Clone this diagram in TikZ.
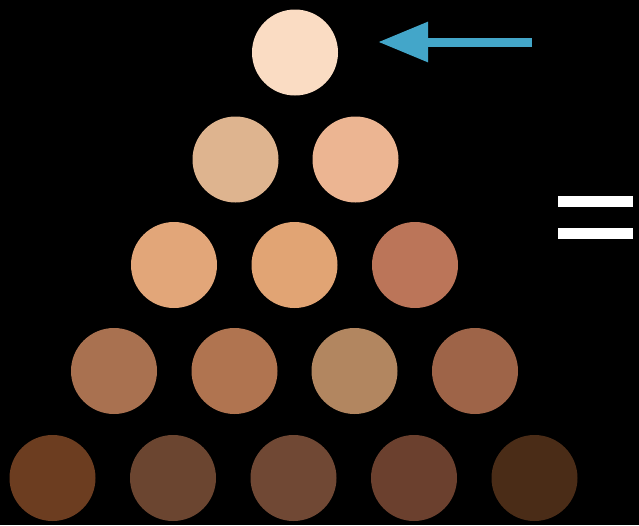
\documentclass[tikz,border=0pt]{standalone}
\usetikzlibrary{arrows.meta}
\definecolor{arrowblue}{HTML}{43A6C9}
\definecolor{cA}{HTML}{FADCC3}
\definecolor{cBa}{HTML}{DEB48F}
\definecolor{cBb}{HTML}{ECB592}
\definecolor{cCa}{HTML}{E2A679}
\definecolor{cCb}{HTML}{E1A474}
\definecolor{cCc}{HTML}{BB7559}
\definecolor{cDa}{HTML}{A97150}
\definecolor{cDb}{HTML}{B07450}
\definecolor{cDc}{HTML}{B28660}
\definecolor{cDd}{HTML}{9E6448}
\definecolor{cEa}{HTML}{6C3D20}
\definecolor{cEb}{HTML}{6B4530}
\definecolor{cEc}{HTML}{704834}
\definecolor{cEd}{HTML}{6B402E}
\definecolor{cEe}{HTML}{4A2C17}
\tikzset{
  swatch/.style={circle, minimum size=86pt, inner sep=0pt, draw=none, fill=#1},
  eqbar/.style={fill=white, draw=none},
}
\begin{document}
\begin{tikzpicture}[x=1pt,y=-1pt]
\fill[black] (0,0) rectangle (639,525);
\useasboundingbox (0,0) rectangle (639,525);
% row 1
\node[swatch=cA] (a1) at (295,52.5) {};
% row 2
\node[swatch=cBa] (b1) at (235.5,159.5) {};
\node[swatch=cBb] (b2) at (355.5,159.5) {};
% row 3
\node[swatch=cCa] (c1) at (174,265) {};
\node[swatch=cCb] (c2) at (294.5,265) {};
\node[swatch=cCc] (c3) at (415,265) {};
% row 4
\node[swatch=cDa] (d1) at (114,371) {};
\node[swatch=cDb] (d2) at (234.5,371) {};
\node[swatch=cDc] (d3) at (354.5,371) {};
\node[swatch=cDd] (d4) at (475,371) {};
% row 5
\node[swatch=cEa] (e1) at (52.5,478) {};
\node[swatch=cEb] (e2) at (173,478) {};
\node[swatch=cEc] (e3) at (293.5,478) {};
\node[swatch=cEd] (e4) at (414,478) {};
\node[swatch=cEe] (e5) at (534.5,478) {};
% arrow
\coordinate (tail) at (532,42);
\coordinate (tip) at (378,42);
\draw[arrowblue, line width=9pt, -{Triangle[length=50pt, width=38pt]}] (tail) -- (tip);
% equals sign
\node[eqbar, minimum width=75pt, minimum height=11pt, inner sep=0pt] (eq1) at (595.5,201.5) {};
\node[eqbar, minimum width=75pt, minimum height=11pt, inner sep=0pt] (eq2) at (595.5,233.5) {};
\end{tikzpicture}
\end{document}
